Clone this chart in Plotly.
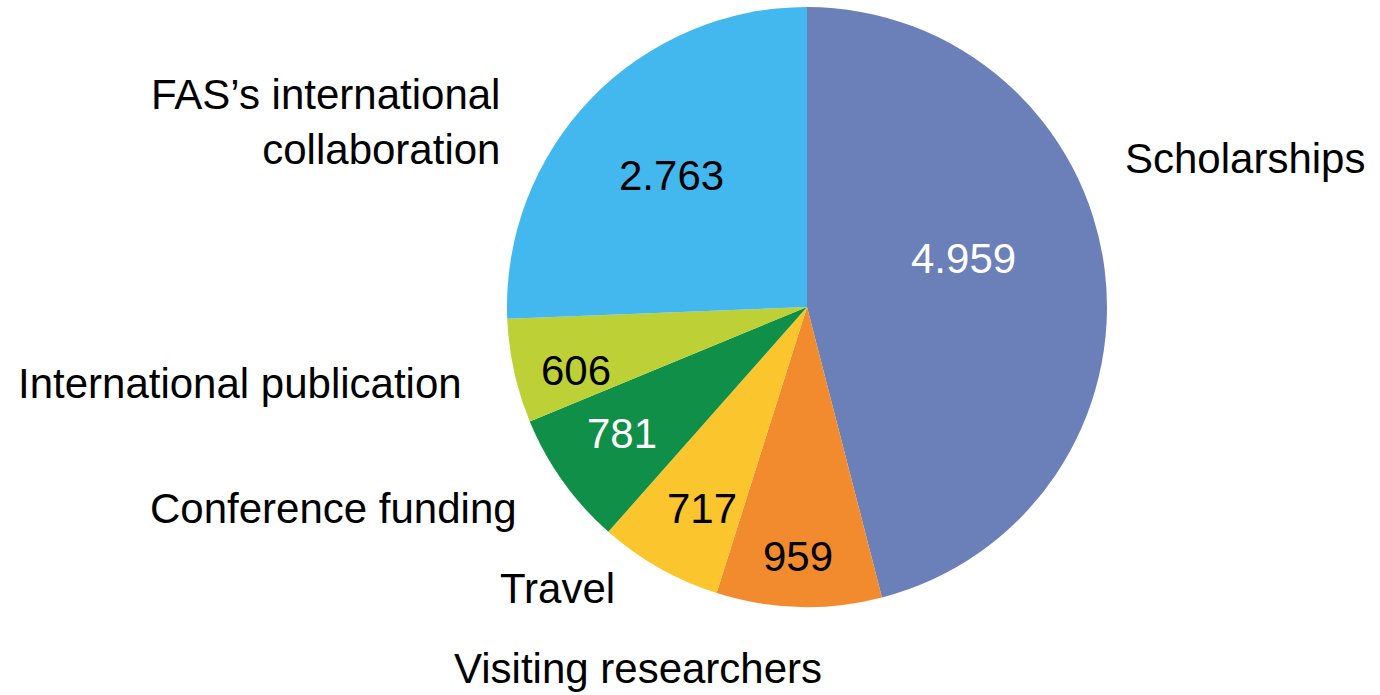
import plotly.graph_objects as go

categories = ["Scholarships", "Visiting researchers", "Travel", "Conference funding",
              "International publication", "FAS\u2019s international<br>collaboration"]
values = [4959, 959, 717, 781, 606, 2763]
value_labels = [f"{v:,}".replace(",", ".") for v in values]
colors = ["#6B7FB9", "#F28A2E", "#FBC52E", "#0F8F47", "#BDD136", "#42B8EE"]
value_text_colors = ["white", "black", "black", "white", "black", "black"]

W, H = 1380, 695
# pixel positions of texts (centers)
value_pos = [(963, 258), (798, 556), (702, 508), (622, 433), (576, 370), (671, 175)]
label_pos = [(1245, 158, "center"), (638, 668, "center"), (557, 588, "center"),
             (333, 508, "center"), (240, 383, "center"), (502, 122, "right")]

fig = go.Figure(go.Pie(
    labels=categories, values=values, sort=False, direction="clockwise", rotation=0,
    marker=dict(colors=colors, line=dict(width=0)), textinfo="none", hoverinfo="label+value",
    domain=dict(x=[507 / W, 1107 / W], y=[1 - 607 / H, 1 - 7 / H]), showlegend=False,
))

font = "Liberation Sans, Arial, sans-serif"
anns = []
for txt, (px, py), c in zip(value_labels, value_pos, value_text_colors):
    anns.append(dict(x=px / W, y=1 - py / H, xref="paper", yref="paper", text=txt,
                     showarrow=False, xanchor="center", yanchor="middle",
                     font=dict(family=font, size=42, color=c)))
for txt, (px, py, anc) in zip(categories, label_pos):
    anns.append(dict(x=px / W, y=1 - py / H, xref="paper", yref="paper", text=txt,
                     showarrow=False, xanchor=anc, yanchor="middle", align=anc,
                     font=dict(family=font, size=42, color="black")))

fig.update_layout(width=W, height=H, margin=dict(l=0, r=0, t=0, b=0),
                  paper_bgcolor="white", plot_bgcolor="white", annotations=anns)
fig.write_html("out.html", config={"displayModeBar": False},
               post_script="document.body.style.margin='0';document.body.style.overflow='hidden';")
